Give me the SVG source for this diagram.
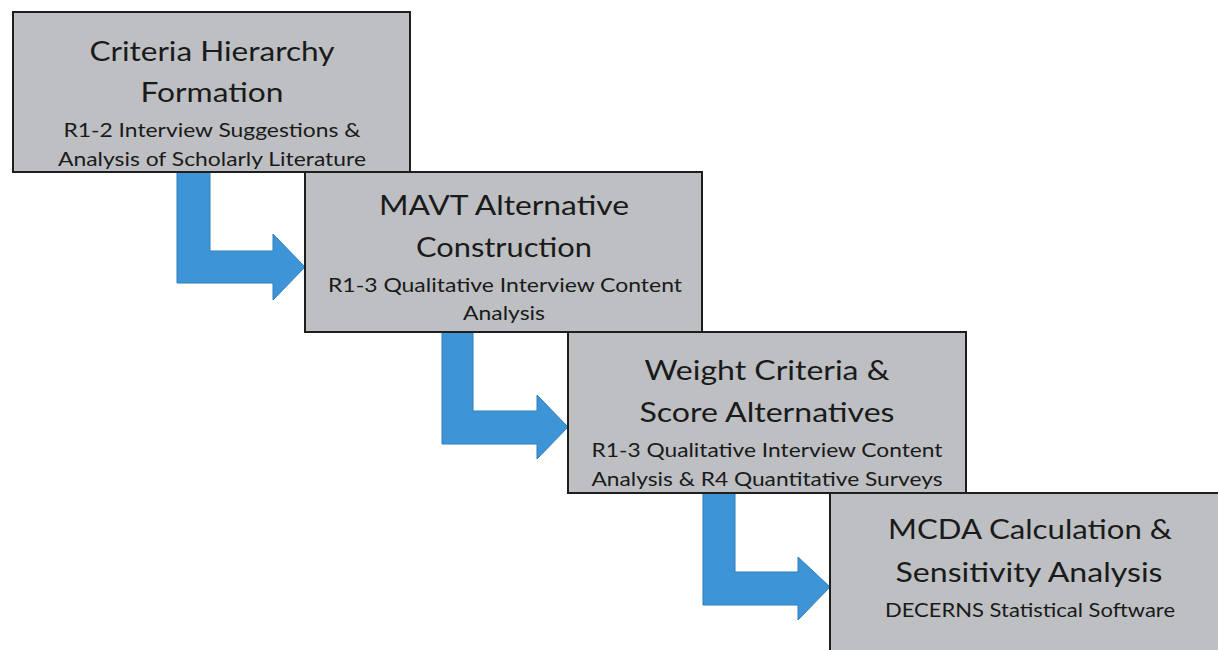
<svg xmlns="http://www.w3.org/2000/svg" width="1218" height="650" viewBox="0 0 1218 650">
<style>
.box{fill:#bdbfc2;stroke:#1e1e1e;stroke-width:2}
.arrow{fill:#3d95d8;stroke:#2f7cba;stroke-width:1}
.t{font-family:Lato,"Open Sans",sans-serif;font-size:27px;fill:#1a1a1a;text-anchor:middle}
.s{font-family:Lato,"Open Sans",sans-serif;font-size:20px;fill:#1a1a1a;text-anchor:middle}
</style>
<rect width="1218" height="650" fill="#ffffff"/>
<g id="connectors">
<path class="arrow" d="M177,172 L210,172 L210,251 L273,251 L273,234 L305,267 L273,300 L273,283 L177,283 Z"/>
<path class="arrow" d="M442,332 L473,332 L473,411 L537,411 L537,395 L568,427 L537,459 L537,444 L442,444 Z"/>
<path class="arrow" d="M703,493 L735,493 L735,572 L798,572 L798,557 L830,587 L798,620 L798,605 L703,605 Z"/>
</g>
<g id="node1">
<rect class="box" x="13" y="12" width="397" height="160"/>
<text class="t" x="212" y="61" textLength="245" lengthAdjust="spacingAndGlyphs">Criteria Hierarchy</text>
<text class="t" x="212" y="102" textLength="143" lengthAdjust="spacingAndGlyphs">Formation</text>
<text class="s" x="212" y="137" textLength="297" lengthAdjust="spacingAndGlyphs">R1-2 Interview Suggestions &amp;</text>
<text class="s" x="212" y="166" textLength="308" lengthAdjust="spacingAndGlyphs">Analysis of Scholarly Literature</text>
</g>
<g id="node2">
<rect class="box" x="305" y="172" width="397" height="160"/>
<text class="t" x="504" y="215" textLength="250" lengthAdjust="spacingAndGlyphs">MAVT Alternative</text>
<text class="t" x="504" y="257" textLength="176" lengthAdjust="spacingAndGlyphs">Construction</text>
<text class="s" x="505" y="292" textLength="354" lengthAdjust="spacingAndGlyphs">R1-3 Qualitative Interview Content</text>
<text class="s" x="504" y="320" textLength="82" lengthAdjust="spacingAndGlyphs">Analysis</text>
</g>
<g id="node3">
<rect class="box" x="568" y="332" width="398" height="161"/>
<text class="t" x="767" y="380" textLength="245" lengthAdjust="spacingAndGlyphs">Weight Criteria &amp;</text>
<text class="t" x="767" y="422" textLength="255" lengthAdjust="spacingAndGlyphs">Score Alternatives</text>
<text class="s" x="767" y="457" textLength="351" lengthAdjust="spacingAndGlyphs">R1-3 Qualitative Interview Content</text>
<text class="s" x="767" y="486" textLength="351" lengthAdjust="spacingAndGlyphs">Analysis &amp; R4 Quantitative Surveys</text>
</g>
<g id="node4">
<rect class="box" x="830" y="493" width="400" height="170"/>
<text class="t" x="1030" y="539" textLength="284" lengthAdjust="spacingAndGlyphs">MCDA Calculation &amp;</text>
<text class="t" x="1029" y="582" textLength="267" lengthAdjust="spacingAndGlyphs">Sensitivity Analysis</text>
<text class="s" x="1030" y="617" textLength="290" lengthAdjust="spacingAndGlyphs">DECERNS Statistical Software</text>
</g>
</svg>
